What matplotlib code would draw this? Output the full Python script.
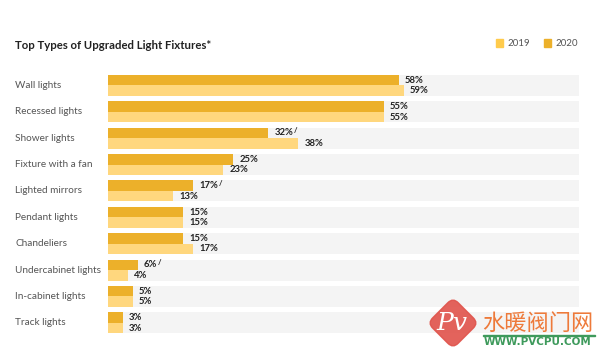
import numpy as np
import matplotlib.pyplot as plt
from matplotlib import rcParams
from matplotlib.transforms import blended_transform_factory
from matplotlib.patches import FancyBboxPatch, Rectangle
import matplotlib.transforms as mtransforms

rcParams['font.family'] = ['Lato', 'DejaVu Sans']

categories = ["Wall lights", "Recessed lights", "Shower lights", "Fixture with a fan",
              "Lighted mirrors", "Pendant lights", "Chandeliers", "Undercabinet lights",
              "In-cabinet lights", "Track lights"]
v2020 = [58, 55, 32, 25, 17, 15, 15, 6, 5, 3]
v2019 = [59, 55, 38, 23, 13, 15, 17, 4, 5, 3]
flag2020 = [False, False, True, False, True, False, False, True, False, False]

C2020 = '#ECB02A'
C2019 = '#FFD77E'
BG = '#F4F4F4'
XMAX = 94

fig = plt.figure(figsize=(6, 3.55), dpi=100)
ax = fig.add_axes([0.18, 0.0535, 0.785, 0.743])

y = np.arange(len(categories))
H = 0.8
ax.barh(y, [XMAX] * len(y), height=H, color=BG, zorder=1)
ax.barh(y - H / 4, v2020, height=H / 2, color=C2020, zorder=2)
ax.barh(y + H / 4, v2019, height=H / 2, color=C2019, zorder=2)

for i in range(len(y)):
    ax.annotate(f'{v2020[i]}%', (v2020[i], y[i] - H / 4), xytext=(4.3, 0),
                textcoords='offset points', va='center', ha='left',
                fontsize=6.8, fontweight='bold', color='#222222', zorder=3)
    if flag2020[i]:
        off = 18.5 if v2020[i] >= 10 else 14.5
        ax.annotate('/', (v2020[i], y[i] - H / 4 - 0.08), xytext=(off, 0),
                    textcoords='offset points', va='center', ha='left',
                    fontsize=5.5, fontweight='bold', color='#222222', zorder=3)
    ax.annotate(f'{v2019[i]}%', (v2019[i], y[i] + H / 4), xytext=(4.3, 0),
                textcoords='offset points', va='center', ha='left',
                fontsize=6.8, fontweight='bold', color='#222222', zorder=3)

trans = blended_transform_factory(fig.transFigure, ax.transData)
for i, c in enumerate(categories):
    ax.text(0.025, y[i], c, transform=trans, ha='left', va='center',
            fontsize=7.2, color='#555555')

ax.set_xlim(0, XMAX)
ax.set_ylim(len(y) - 0.5, -0.5)
ax.axis('off')

fig.text(0.025, 0.873, 'Top Types of Upgraded Light Fixtures*', fontsize=8.2,
         fontweight='bold', color='#222222', va='center', ha='left')

# legend
for xs, lbl, col in [(0.826, '2019', '#FFCB4C'), (0.906, '2020', C2020)]:
    fig.patches.append(Rectangle((xs, 0.868), 0.0127, 0.021, transform=fig.transFigure,
                                 color=col, figure=fig))
    fig.text(xs + 0.020, 0.878, lbl, fontsize=7, color='#555555', va='center', ha='left')

# watermark
logo = FancyBboxPatch((-0.5, -0.5), 1, 1, boxstyle='round,pad=0,rounding_size=0.2',
                      color='#E0524A', alpha=0.9)
tr = mtransforms.Affine2D().rotate_deg(45).scale(36, 36).translate(453, 355 - 323)
logo.set_transform(tr)
fig.patches.append(logo)
fig.text(452 / 600, 1 - 323 / 355, 'Pv', fontsize=18, fontstyle='italic',
         color='white', ha='center', va='center', family=['DejaVu Serif'])
fig.text(482 / 600, 1 - 323 / 355, '水暖阀门网', fontsize=16, color='#EE7A3A',
         ha='left', va='center', family=['Noto Sans CJK SC', 'DejaVu Sans'])
fig.text(484 / 600, 1 - 342 / 355, 'WWW.PVCPU.COM', fontsize=7.5, color='#3E9A5C',
         ha='left', va='center', fontweight='bold', family=['DejaVu Sans'])
fig.patches.append(Rectangle((483 / 600, 1 - 336 / 355), 112 / 600, 1.5 / 355,
                             transform=fig.transFigure, color='#3E9A5C', figure=fig))

fig.savefig('out.png', dpi=100)
